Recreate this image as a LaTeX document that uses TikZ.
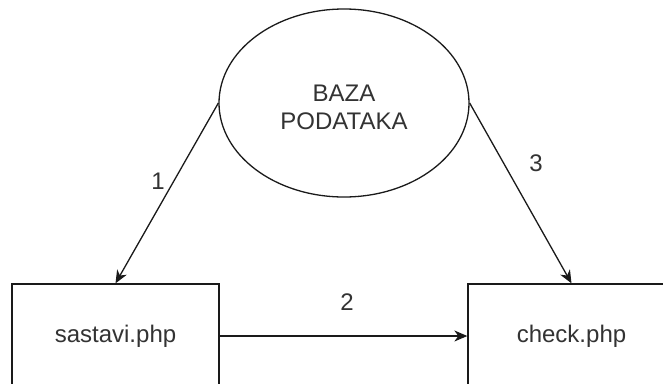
\documentclass[tikz,border=0pt]{standalone}
\usepackage{fontspec}
\setmainfont{Liberation Sans}
\usetikzlibrary{shapes.geometric,arrows.meta}
\definecolor{txt}{HTML}{333333}
\definecolor{ln}{HTML}{1A1A1A}
\tikzset{
  box/.style={draw=ln, line width=1.3pt, rectangle, minimum width=207pt, minimum height=104pt, inner sep=0pt, text=txt, font=\fontsize{24}{28}\selectfont},
  db/.style={draw=ln, line width=1.3pt, ellipse, minimum width=250pt, minimum height=188pt, inner sep=0pt},
  lbl/.style={text=txt, inner sep=0pt, align=center, font=\fontsize{24}{28}\selectfont},
  arr/.style={draw=ln, line width=1.3pt, -{Stealth[length=13pt, width=11pt, inset=4pt]}}
}
\begin{document}
\begin{tikzpicture}[x=1pt, y=-1pt]
\useasboundingbox (0,0) rectangle (663,383);
\clip (0,0) rectangle (663,383);
\fill[white] (0,0) rectangle (663,383);
\node[db] (baza) at (344,103) {};
\node[lbl] (bazatxt) at (344,107) {BAZA\\PODATAKA};
\node[box] (s) at (115.5,336) {sastavi.php};
\node[box] (c) at (571.5,336) {check.php};
\draw[arr] (baza.west) -- (s.north);
\draw[arr] (baza.east) -- (c.north);
\draw[arr] (s.east) -- (c.west);
\node[lbl] (l1) at (158,181) {1};
\node[lbl] (l2) at (347,302) {2};
\node[lbl] (l3) at (536,163) {3};
\end{tikzpicture}
\end{document}
